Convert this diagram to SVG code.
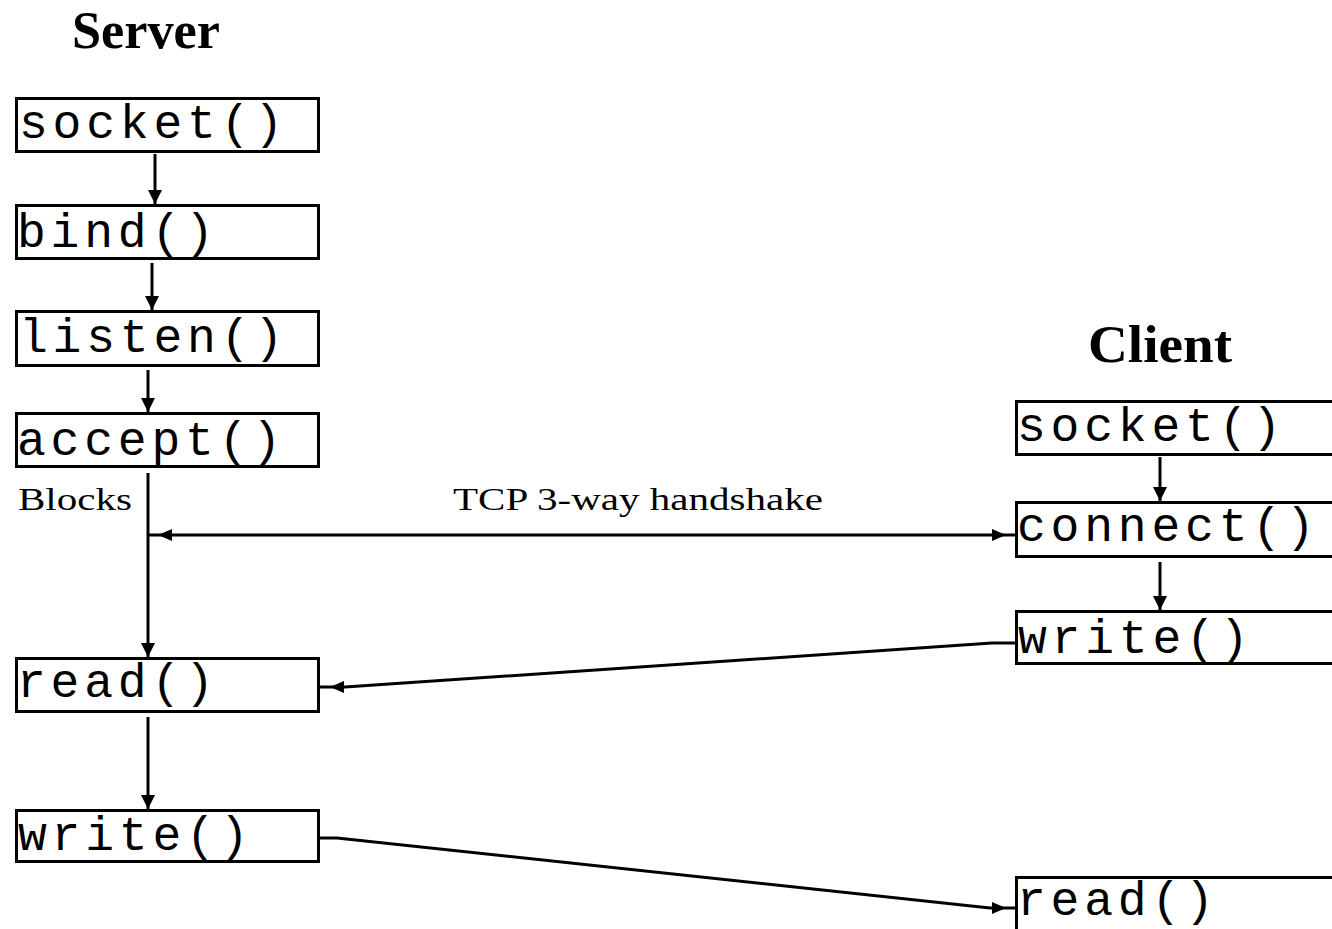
<svg xmlns="http://www.w3.org/2000/svg" width="1332" height="929" viewBox="0 0 1332 929">
<style>
.box{fill:#fff;stroke:#000;stroke-width:3}
.fn{font-family:"Liberation Mono","DejaVu Sans Mono",monospace;font-size:48px;letter-spacing:4.8px;fill:#000}
.title{font-family:"Liberation Serif","Times New Roman",serif;font-weight:bold;font-size:52px;fill:#000}
.lbl{font-family:"Liberation Serif","Times New Roman",serif;font-size:32px;fill:#000}
.con{fill:none;stroke:#000;stroke-width:3}
</style>
<defs>
<marker id="arr" markerUnits="userSpaceOnUse" markerWidth="16" markerHeight="16" viewBox="0 0 16 16" refX="14" refY="8" orient="auto-start-reverse">
<path d="M0,1 L14,8 L0,15 z" fill="#000"/>
</marker>
<marker id="arrIn" markerUnits="userSpaceOnUse" markerWidth="40" markerHeight="16" viewBox="0 0 40 16" refX="24" refY="8" orient="auto-start-reverse">
<path d="M0,2 L14,8 L0,14 z" fill="#000"/>
</marker>
</defs>
<rect width="1332" height="929" fill="#fff"/>
<text class="title" x="72" y="48" textLength="148" lengthAdjust="spacingAndGlyphs">Server</text>
<text class="title" x="1088" y="362" textLength="144" lengthAdjust="spacingAndGlyphs">Client</text>
<text class="lbl" x="18" y="510" textLength="114" lengthAdjust="spacingAndGlyphs">Blocks</text>
<text class="lbl" x="453" y="510" textLength="370" lengthAdjust="spacingAndGlyphs">TCP 3-way handshake</text>

<g id="server-socket"><rect class="box" x="16.5" y="98.5" width="302" height="53"/><text class="fn" x="19" y="138">socket()</text></g>
<g id="server-bind"><rect class="box" x="16.5" y="205.5" width="302" height="53"/><text class="fn" x="17" y="247">bind()</text></g>
<g id="server-listen"><rect class="box" x="16.5" y="311.5" width="302" height="54"/><text class="fn" x="19" y="352">listen()</text></g>
<g id="server-accept"><rect class="box" x="16.5" y="413.5" width="302" height="53"/><text class="fn" x="17" y="455">accept()</text></g>
<g id="server-read"><rect class="box" x="16.5" y="658.5" width="302" height="53"/><text class="fn" x="17" y="697">read()</text></g>
<g id="server-write"><rect class="box" x="16.5" y="810.5" width="302" height="51"/><text class="fn" x="18" y="850">write()</text></g>

<g id="client-socket"><rect class="box" x="1016.5" y="401.5" width="340" height="53"/><text class="fn" x="1017" y="441">socket()</text></g>
<g id="client-connect"><rect class="box" x="1016.5" y="502.5" width="340" height="54"/><text class="fn" x="1017" y="541">connect()</text></g>
<g id="client-write"><rect class="box" x="1016.5" y="611.5" width="340" height="52"/><text class="fn" x="1018" y="653">write()</text></g>
<g id="client-read"><rect class="box" x="1016.5" y="877.5" width="340" height="80"/><text class="fn" x="1017" y="915">read()</text></g>

<g id="connectors">
<line class="con" x1="155" y1="154" x2="155" y2="204" marker-end="url(#arr)"/>
<line class="con" x1="152" y1="263" x2="152" y2="310" marker-end="url(#arr)"/>
<line class="con" x1="148" y1="370" x2="148" y2="412" marker-end="url(#arr)"/>
<line class="con" x1="148" y1="473" x2="148" y2="657" marker-end="url(#arr)"/>
<line class="con" x1="148" y1="535" x2="1016" y2="535" marker-start="url(#arrIn)" marker-end="url(#arrIn)"/>
<polyline class="con" points="1016,643 992,643 345,687 320,687" marker-end="url(#arrIn)"/>
<line class="con" x1="148" y1="717" x2="148" y2="809" marker-end="url(#arr)"/>
<polyline class="con" points="320,838 337,838 990,908 1016,908" marker-end="url(#arrIn)"/>
<line class="con" x1="1160" y1="457" x2="1160" y2="501" marker-end="url(#arr)"/>
<line class="con" x1="1160" y1="562" x2="1160" y2="610" marker-end="url(#arr)"/>
</g>
</svg>
